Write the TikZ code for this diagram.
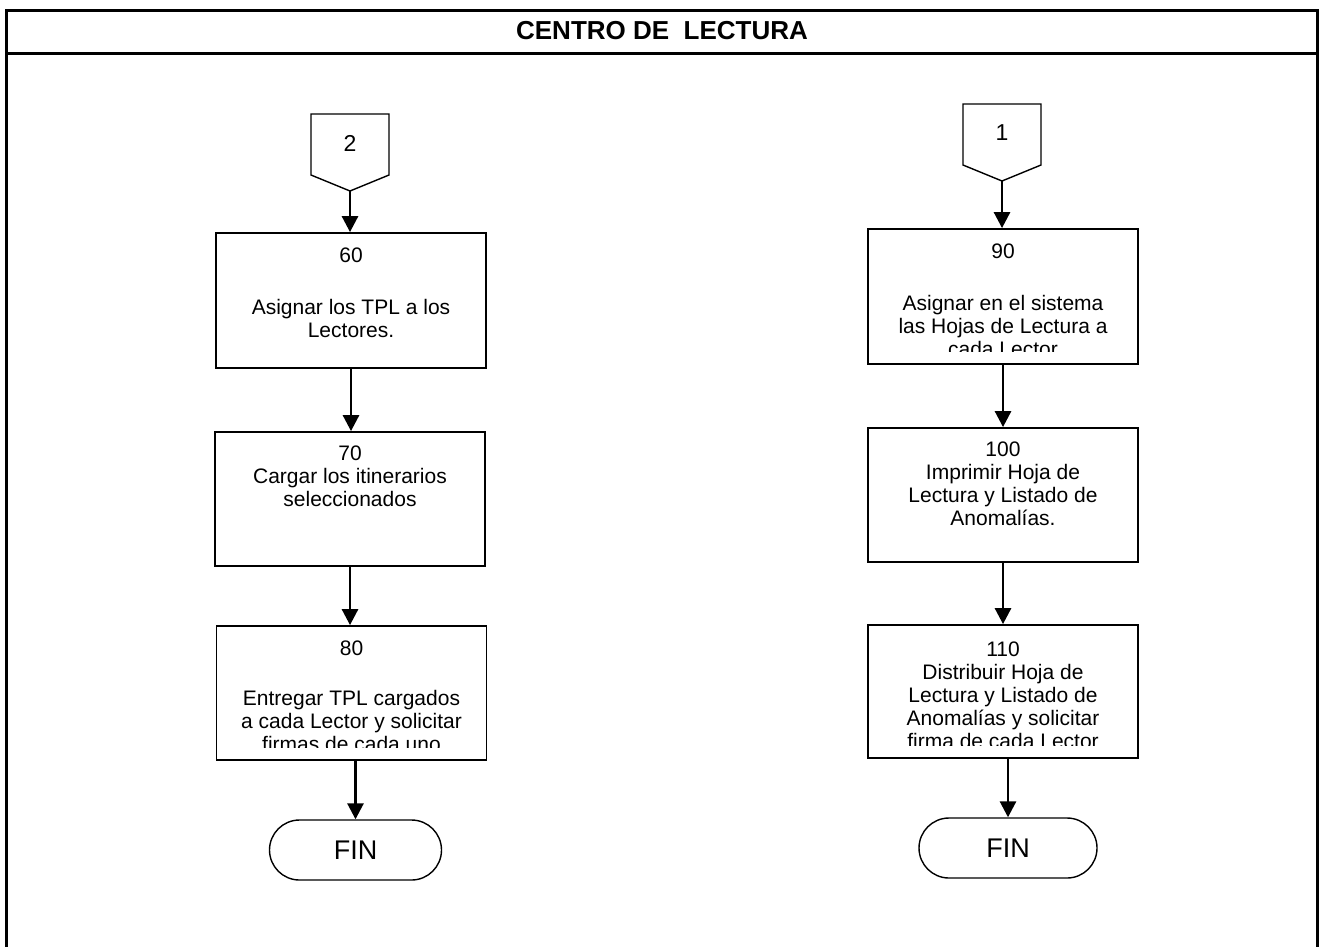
\documentclass[tikz,border=0pt]{standalone}
\usepackage{fontspec}
\setmainfont{Liberation Sans}
\usetikzlibrary{arrows.meta,shapes.misc}
\newcommand\boxtext[4]{%
  \begin{scope}
    \clip ([xshift=2pt,yshift=13pt]#2.south west) rectangle ([xshift=-2pt]#2.north east);
    \node[txt] (#1) at ([yshift=#3]#2.north) {#4};
  \end{scope}}
\begin{document}
\begin{tikzpicture}[x=1pt,y=-1pt,
  proc/.style={draw, line width=1.8pt, minimum width=270pt, inner sep=0pt},
  txt/.style={font=\fontsize{21}{23}\selectfont, align=center, inner sep=0pt, anchor=north},
  arr/.style={line width=2.8pt, -{Triangle[width=16pt,length=16pt]}},
  term/.style={draw, rounded rectangle, line width=1.4pt, minimum height=60pt, font=\fontsize{27}{30}\selectfont, inner sep=0pt},
  conn/.style={line width=1.4pt, line join=miter},
  cnum/.style={font=\fontsize{23}{25}\selectfont, inner sep=0pt},
  frame/.style={line width=3pt, line join=miter}]
\useasboundingbox (0,0) rectangle (1321,946);
% frame
\draw[frame] (6,952) -- (6,10) -- (1317,10) -- (1317,952);
\draw[frame] (6,53) -- (1317,53);
\node[font=\bfseries\fontsize{26}{29}\selectfont, inner sep=0pt] (title) at (662,31) {CENTRO DE\ \ LECTURA};

% left column
\node[cnum] (c2) at (350,143) {2};
\draw[conn] (311,114) -- (389,114) -- (389,175) -- (350,191) -- (311,175) -- cycle;
\coordinate (c2tip) at (350,191);

\node[proc, minimum height=135pt] (b60) at (351,300.5) {};
\node[proc, minimum height=134pt] (b70) at (350,499) {};
\node[proc, minimum height=134pt] (b80) at (351.5,693) {};
\node[term, minimum width=172pt] (f1) at (355.5,850) {FIN};

\boxtext{t60}{b60}{-16pt}{60\\[29pt]Asignar los TPL a los\\Lectores.}
\boxtext{t70}{b70}{-15pt}{70\\Cargar los itinerarios\\seleccionados}
\boxtext{t80}{b80}{-16pt}{80\\[27pt]Entregar TPL cargados\\a cada Lector y solicitar\\firmas de cada uno}

\draw[arr] (c2tip) -- (c2tip |- b60.north);
\draw[arr] (b60.south) -- (b60.south |- b70.north);
\draw[arr] (b70.south) -- (b70.south |- b80.north);
\draw[arr] (b80.south -| f1.north) -- (f1.north);

% right column
\node[cnum] (c1) at (1002,133) {1};
\draw[conn] (963,104) -- (1041,104) -- (1041,165) -- (1002,181) -- (963,165) -- cycle;
\coordinate (c1tip) at (1002,181);

\node[proc, minimum height=135pt] (b90) at (1003,296.5) {};
\node[proc, minimum height=134pt] (b100) at (1003,495) {};
\node[proc, minimum height=133pt] (b110) at (1003,691.5) {};
\node[term, minimum width=178pt] (f2) at (1008,848) {FIN};

\boxtext{t90}{b90}{-16pt}{90\\[29pt]Asignar en el sistema\\las Hojas de Lectura a\\cada Lector}
\boxtext{t100}{b100}{-15pt}{100\\Imprimir Hoja de\\Lectura y Listado de\\Anomalías.}
\boxtext{t110}{b110}{-18pt}{110\\Distribuir Hoja de\\Lectura y Listado de\\Anomalías y solicitar\\firma de cada Lector}

\draw[arr] (c1tip) -- (c1tip |- b90.north);
\draw[arr] (b90.south) -- (b90.south |- b100.north);
\draw[arr] (b100.south) -- (b100.south |- b110.north);
\draw[arr] (b110.south -| f2.north) -- (f2.north);
\end{tikzpicture}
\end{document}
